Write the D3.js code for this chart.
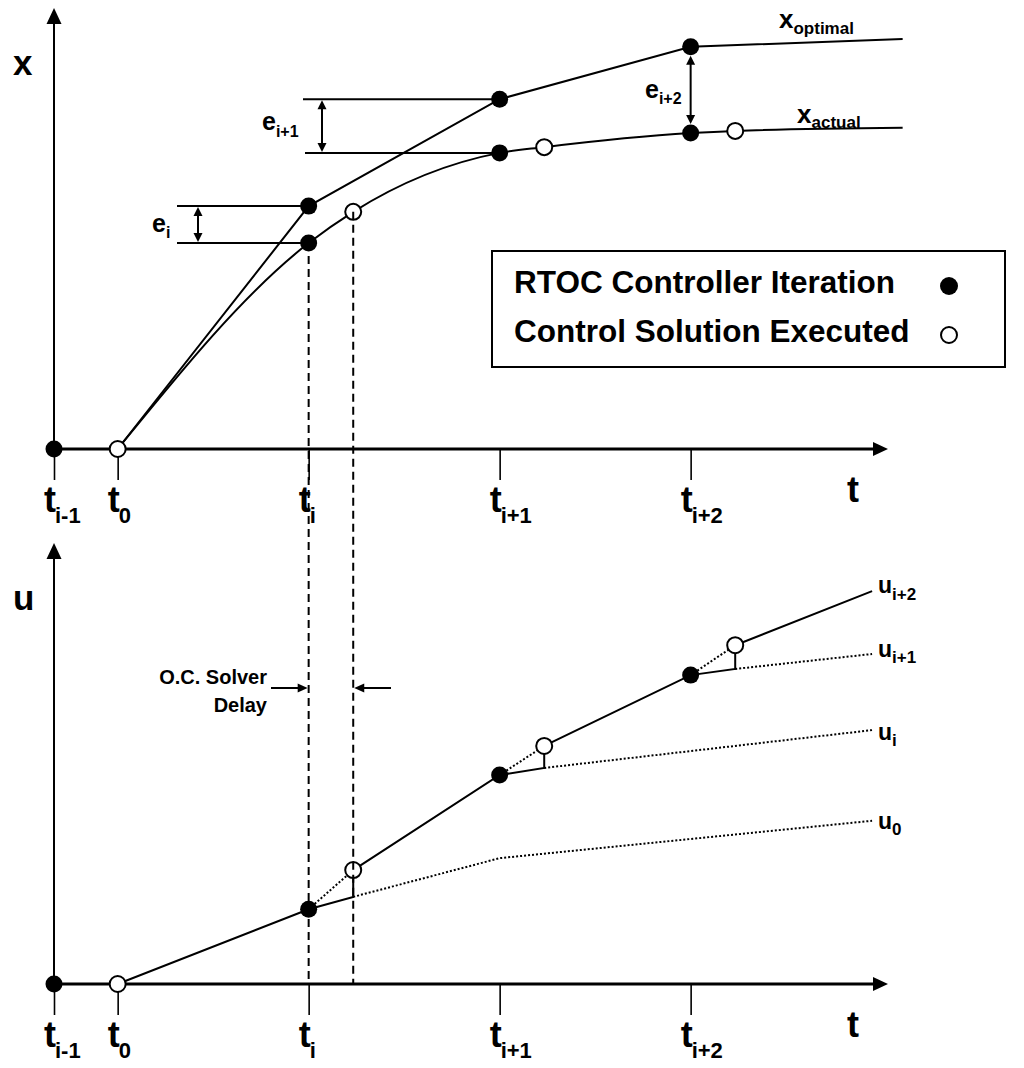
<!DOCTYPE html>
<html><head><meta charset="utf-8">
<script src="https://cdn.jsdelivr.net/npm/d3@7"></script>
<style>
body{margin:0;background:#fff}
svg{display:block}
text{font-family:"Liberation Sans",Arial,Helvetica,sans-serif;font-weight:bold;fill:#000}
</style>
</head><body>
<svg id="c" width="1024" height="1068"></svg>
<script>
// ---------------- data ----------------
const tickTimes = [0, 1, 4, 7, 10];
const tickSubs = ["i-1", "0", "i", "i+1", "i+2"];
const iterTimes = [4, 7, 10];
const solverDelay = 0.7;
// state trajectories (top panel)
const xOptT = [1, 4, 7, 10, 13.33];
const xOptV = [0, 55.2, 79.5, 91.4, 93.2];
const xActT = [1, 4, 4.7, 7, 7.7, 10, 10.7, 13.33];
const xActV = [0, 46.8, 53.9, 67.3, 68.6, 71.8, 72.3, 73.0];
// control trajectories (bottom panel)
const uStartT = [1, 4];
const uStartV = [0, 17.0];
const uIterV = [17.0, 47.5, 70.2];   // u at controller iterations (filled)
const uNewV  = [25.9, 54.1, 77.0];   // new solution after solver delay (open)
const uOldV  = [19.8, 49.1, 71.6];   // previous solution after solver delay
const u0T  = [4.7, 7, 12.85];  const u0V  = [19.8, 28.6, 37.1];
const uiT  = [7.7, 12.85];     const uiV  = [49.1, 57.7];
const ui1T = [10.7, 12.85];    const ui1V = [71.6, 75.0];
const ui2T = [10.7, 12.85];    const ui2V = [77.0, 89.3];
const legendItems = ["RTOC Controller Iteration", "Control Solution Executed"];

// ---------------- scales ----------------
const svg = d3.select("#c");
const X = d3.scaleLinear().domain([0, 13.1]).range([54, 888]);
const Yt = d3.scaleLinear().domain([0, 100]).range([449, 9]);
const Yb = d3.scaleLinear().domain([0, 100]).range([984, 544]);
const R = 8.5;

function arrowHead(g, x, y, dir, len = 14, hw = 7) {
  let p;
  if (dir === "up") p = [[x, y], [x - hw, y + len], [x + hw, y + len]];
  else if (dir === "down") p = [[x, y], [x - hw, y - len], [x + hw, y - len]];
  else if (dir === "right") p = [[x, y], [x - len, y - hw], [x - len, y + hw]];
  else p = [[x, y], [x + len, y - hw], [x + len, y + hw]];
  g.append("path").attr("d", "M" + p.join("L") + "Z").attr("fill", "#000");
}
function subLabel(g, x, y, main, sub, ms, ss, dy, anchor = "start") {
  const t = g.append("text").attr("x", x).attr("y", y).attr("text-anchor", anchor);
  t.append("tspan").attr("font-size", ms).text(main);
  t.append("tspan").attr("font-size", ss).attr("dy", dy).text(sub);
  return t;
}
function line(g, pts, opts = {}) {
  g.append("path")
    .attr("d", d3.line().x(d => d[0]).y(d => d[1]).curve(opts.curve || d3.curveLinear)(pts))
    .attr("fill", "none").attr("stroke", "#000")
    .attr("stroke-width", opts.w || 2)
    .attr("stroke-dasharray", opts.dash || null)
    .attr("stroke-linecap", "butt");
}
function dot(g, x, y, filled, r = R) {
  g.append("circle").attr("cx", x).attr("cy", y).attr("r", filled ? r : r - 0.5)
    .attr("fill", filled ? "#000" : "#fff").attr("stroke", "#000").attr("stroke-width", filled ? 0 : 2);
}

function drawAxes(g, Y, varName) {
  const y0 = Y(0);
  const ax = g.append("g").attr("transform", `translate(0,${y0})`)
    .call(d3.axisBottom(X).tickValues(tickTimes).tickSize(31).tickFormat(""));
  ax.select(".domain").remove();
  ax.selectAll(".tick line").attr("stroke", "#000").attr("stroke-width", 1.6);
  g.append("line").attr("x1", X(0)).attr("x2", X(13.1) - 12).attr("y1", y0).attr("y2", y0)
    .attr("stroke", "#000").attr("stroke-width", 3);
  arrowHead(g, X(13.1), y0, "right", 15, 7);
  g.append("line").attr("x1", X(0)).attr("x2", X(0)).attr("y1", y0).attr("y2", Y(100) + 12)
    .attr("stroke", "#000").attr("stroke-width", 2);
  arrowHead(g, X(0), Y(100) - 1, "up", 16, 7.5);
  tickTimes.forEach((t, i) => {
    g.append("text").attr("x", X(t) + 2).attr("y", y0 + 63).attr("text-anchor", "end")
      .attr("font-size", 36).text("t");
    g.append("text").attr("x", X(t) + 1).attr("y", y0 + 74).attr("font-size", 22).text(tickSubs[i]);
  });
  g.append("text").attr("x", 853).attr("y", y0 + 53).attr("text-anchor", "middle")
    .attr("font-size", 36).text("t");
  g.append("text").attr("x", 13).attr("y", Y(100) + 66).attr("font-size", 35).text(varName);
}

const gTop = svg.append("g");
const gBot = svg.append("g");

// dashed solver-delay lines spanning both panels
line(svg, [[X(iterTimes[0]), Yt(xActV[1])], [X(iterTimes[0]), Yb(0)]], {dash: "8,5", w: 2});
line(svg, [[X(iterTimes[0] + solverDelay), Yt(xActV[2])], [X(iterTimes[0] + solverDelay), Yb(0)]], {dash: "8,5", w: 2});

drawAxes(gTop, Yt, "x");
drawAxes(gBot, Yb, "u");

// ---------------- top panel ----------------
const optPts = xOptT.map((t, i) => [X(t), Yt(xOptV[i])]);
const actPts = xActT.map((t, i) => [X(t), Yt(xActV[i])]);
line(gTop, optPts, {w: 2});
line(gTop, actPts, {w: 2, curve: d3.curveMonotoneX});

const eStyle = {w: 2};
// e_i
line(gTop, [[177, Yt(xOptV[1])], [X(4), Yt(xOptV[1])]], eStyle);
line(gTop, [[177, Yt(xActV[1])], [X(4), Yt(xActV[1])]], eStyle);
line(gTop, [[198, Yt(xOptV[1]) + 8], [198, Yt(xActV[1]) - 8]], eStyle);
arrowHead(gTop, 198, Yt(xOptV[1]) + 1, "up", 9, 4.5);
arrowHead(gTop, 198, Yt(xActV[1]) - 1, "down", 9, 4.5);
subLabel(gTop, 152, 232, "e", "i", 25, 16, 6);
// e_{i+1}
line(gTop, [[303, Yt(xOptV[2])], [X(7), Yt(xOptV[2])]], eStyle);
line(gTop, [[305, Yt(xActV[3])], [X(7), Yt(xActV[3])]], eStyle);
line(gTop, [[322, Yt(xOptV[2]) + 8], [322, Yt(xActV[3]) - 8]], eStyle);
arrowHead(gTop, 322, Yt(xOptV[2]) + 1, "up", 9, 4.5);
arrowHead(gTop, 322, Yt(xActV[3]) - 1, "down", 9, 4.5);
subLabel(gTop, 262, 130, "e", "i+1", 25, 16, 7);
// e_{i+2}
line(gTop, [[X(10), Yt(xOptV[3]) + 16], [X(10), Yt(xActV[5]) - 16]], eStyle);
arrowHead(gTop, X(10), Yt(xOptV[3]) + 9, "up", 9, 4.5);
arrowHead(gTop, X(10), Yt(xActV[5]) - 9, "down", 9, 4.5);
subLabel(gTop, 645, 98, "e", "i+2", 25, 16, 6);

dot(gTop, X(0), Yt(0), true);
dot(gTop, X(1), Yt(0), false);
[1, 2, 3].forEach(k => dot(gTop, X(xOptT[k]), Yt(xOptV[k]), true));
[1, 3, 5].forEach(k => dot(gTop, X(xActT[k]), Yt(xActV[k]), true));
[2, 4, 6].forEach(k => dot(gTop, X(xActT[k]), Yt(xActV[k]), false));

subLabel(gTop, 779, 28, "x", "optimal", 26, 17, 6);
subLabel(gTop, 797, 123, "x", "actual", 26, 17, 5);

// legend
const lg = svg.append("g");
lg.append("rect").attr("x", 492).attr("y", 251).attr("width", 513).attr("height", 116)
  .attr("fill", "#fff").attr("stroke", "#000").attr("stroke-width", 2);
legendItems.forEach((s, i) => {
  lg.append("text").attr("x", 514).attr("y", 293 + i * 49).attr("font-size", 31.5).text(s);
  dot(lg, 949, 286 + i * 49, i === 0, i === 0 ? 9 : 8.5);
});

// ---------------- bottom panel ----------------
const execPts = [];
uStartT.forEach((t, i) => execPts.push([X(t), Yb(uStartV[i])]));
iterTimes.forEach((t, k) => {
  if (k > 0) execPts.push([X(t), Yb(uIterV[k])]);
  execPts.push([X(t + solverDelay), Yb(uOldV[k])]);
  execPts.push([X(t + solverDelay), Yb(uNewV[k])]);
});
execPts.push([X(ui2T[1]), Yb(ui2V[1])]);
line(gBot, execPts, {w: 2});

iterTimes.forEach((t, k) => {
  line(gBot, [[X(t), Yb(uIterV[k])], [X(t + solverDelay), Yb(uNewV[k])]], {dash: "2,2", w: 2});
});
line(gBot, u0T.map((t, i) => [X(t), Yb(u0V[i])]), {dash: "2,2", w: 2});
line(gBot, uiT.map((t, i) => [X(t), Yb(uiV[i])]), {dash: "2,2", w: 2});
line(gBot, ui1T.map((t, i) => [X(t), Yb(ui1V[i])]), {dash: "2,2", w: 2});

dot(gBot, X(0), Yb(0), true);
dot(gBot, X(1), Yb(0), false);
iterTimes.forEach((t, k) => {
  dot(gBot, X(t), Yb(uIterV[k]), true);
  dot(gBot, X(t + solverDelay), Yb(uNewV[k]), false);
});

subLabel(gBot, 878, 593, "u", "i+2", 23, 17, 7);
subLabel(gBot, 878, 657, "u", "i+1", 23, 17, 6);
subLabel(gBot, 878, 740, "u", "i", 23, 17, 6);
subLabel(gBot, 878, 829, "u", "0", 23, 17, 6);

gBot.append("text").attr("x", 267).attr("y", 684).attr("text-anchor", "end").attr("font-size", 20).text("O.C. Solver");
gBot.append("text").attr("x", 267).attr("y", 712).attr("text-anchor", "end").attr("font-size", 20).text("Delay");
line(gBot, [[271, 688], [298, 688]], {w: 2});
arrowHead(gBot, X(iterTimes[0]) - 1, 688, "right", 10, 4.5);
line(gBot, [[391, 688], [362, 688]], {w: 2});
arrowHead(gBot, X(iterTimes[0] + solverDelay) + 1, 688, "left", 10, 4.5);
</script>
</body></html>
